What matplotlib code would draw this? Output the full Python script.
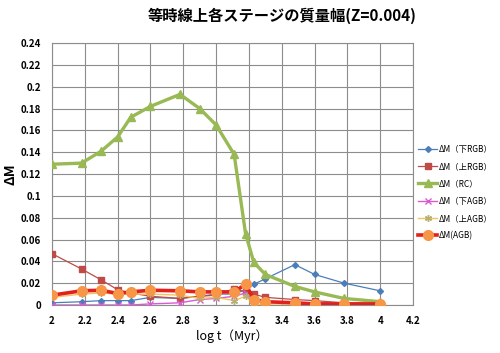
import numpy as np
import matplotlib.pyplot as plt

plt.rcParams['font.family'] = ['Noto Sans CJK JP', 'DejaVu Sans']

logt = [2.0, 2.18, 2.3, 2.4, 2.48, 2.6, 2.78, 2.9, 3.0, 3.11, 3.18, 3.23, 3.3, 3.48, 3.6, 3.78, 4.0]

rgb_low = [0.002, 0.003, 0.004, 0.004, 0.004, 0.007, 0.006, 0.008, 0.010, 0.010, 0.014, 0.019, 0.024, 0.037, 0.028, 0.020, 0.013]
rgb_up = [0.047, 0.033, 0.023, 0.014, 0.011, 0.008, 0.006, 0.008, 0.009, 0.015, 0.012, 0.010, 0.007, 0.005, 0.004, 0.002, 0.001]
rc = [0.129, 0.130, 0.141, 0.154, 0.172, 0.182, 0.193, 0.180, 0.165, 0.138, 0.065, 0.039, 0.028, 0.017, 0.012, 0.006, 0.003]
agb_low = [0.000, 0.000, 0.000, 0.000, 0.000, 0.001, 0.002, 0.005, 0.006, 0.008, 0.011, 0.004, 0.003, 0.002, 0.002, 0.001, 0.001]
agb_up = [0.007, 0.010, 0.011, 0.010, 0.010, 0.010, 0.009, 0.006, 0.007, 0.004, 0.008, 0.001, 0.000, 0.000, 0.000, 0.000, 0.000]
agb = [0.009, 0.013, 0.0135, 0.0105, 0.012, 0.0135, 0.013, 0.012, 0.012, 0.012, 0.019, 0.005, 0.003, 0.002, 0.001, 0.001, 0.001]

labels = ['ΔM（下RGB）', 'ΔM（上RGB）', 'ΔM（RC）', 'ΔM（下AGB）', 'ΔM（上AGB）', 'ΔM(AGB)']

fig = plt.figure(figsize=(5, 3.53), dpi=100)
ax = fig.add_axes([0.104, 0.136, 0.722, 0.742])

ax.plot(logt, rgb_low, color='#4A7EBB', lw=0.9, marker='D', ms=3, label=labels[0], zorder=3)
ax.plot(logt, rgb_up, color='#BE4B48', lw=0.9, marker='s', ms=4.5, label=labels[1], zorder=3)
ax.plot(logt, rc, color='#98B954', lw=2.4, marker='^', ms=6, label=labels[2], zorder=4)
ax.plot(logt, agb_low, color='#D85CD0', lw=1.0, marker='x', ms=4, label=labels[3], zorder=3)
ax.plot(logt, agb_up, color='#F2C45A', lw=1.0, marker=(6, 2, 0), ms=5, mec='#B8B070', label=labels[4], zorder=3)
ax.plot(logt, agb, color='#E3211C', lw=2.6, marker='o', ms=7, mfc='#F79646', mec='#F79646', label=labels[5], zorder=5)

ax.set_xlim(2, 4.2)
ax.set_ylim(0, 0.24)
ax.set_xticks(np.arange(2, 4.21, 0.2))
ax.set_yticks(np.arange(0, 0.241, 0.02))
ax.set_xticklabels(['2', '2.2', '2.4', '2.6', '2.8', '3', '3.2', '3.4', '3.6', '3.8', '4', '4.2'])
ax.set_yticklabels(['0', '0.02', '0.04', '0.06', '0.08', '0.1', '0.12', '0.14', '0.16', '0.18', '0.2', '0.22', '0.24'])
ax.tick_params(labelsize=7, length=0, pad=8)
for t in ax.get_xticklabels() + ax.get_yticklabels():
    t.set_fontweight('bold')
ax.grid(True, color='#8c8c8c', lw=0.8)
ax.set_axisbelow(True)
for s in ax.spines.values():
    s.set_color('#8c8c8c')

ax.set_xlabel('log t（Myr）', fontsize=9, labelpad=2)
ax.set_ylabel('ΔM', fontsize=10, fontweight='bold', labelpad=2)
fig.text(0.565, 0.955, '等時線上各ステージの質量幅(Z=0.004)', ha='center', va='center',
         fontsize=11, fontweight='bold')

fig.legend(loc='upper left', bbox_to_anchor=(0.83, 0.6), frameon=False, fontsize=6,
           handlelength=2.2, labelspacing=1.0, handletextpad=0.3, borderaxespad=0)

fig.savefig('out.png', dpi=100)
